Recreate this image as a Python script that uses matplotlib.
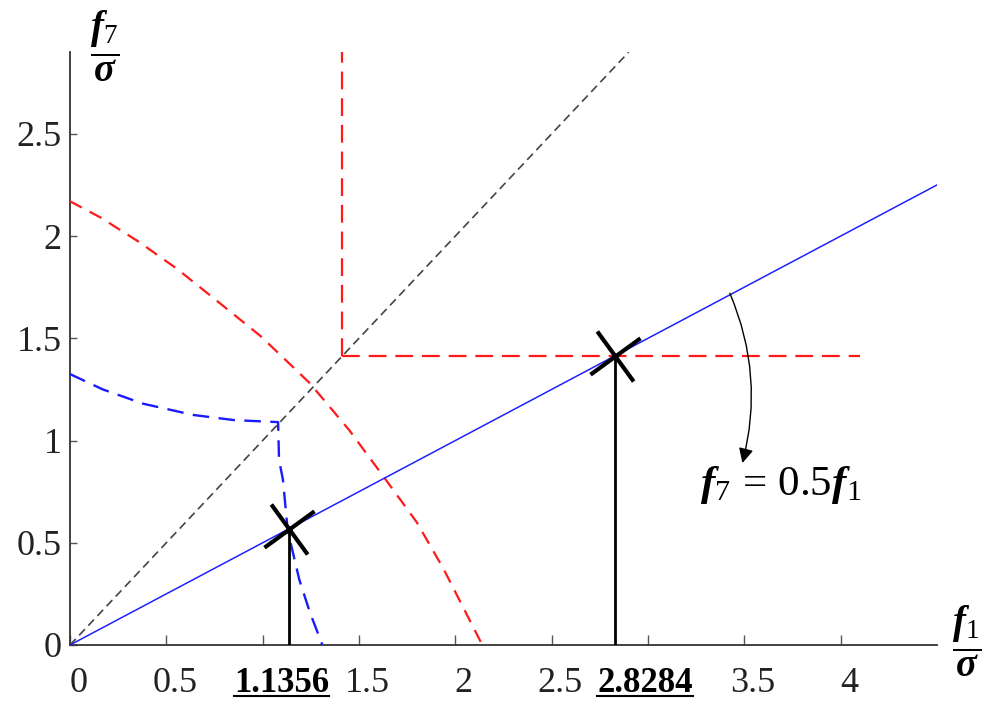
import matplotlib
matplotlib.use('Agg')
import matplotlib.pyplot as plt
import matplotlib.transforms as mtransforms
from matplotlib.path import Path
from matplotlib.lines import Line2D
import numpy as np

# ---------------- data ----------------
red_arc_x = [0.0, 0.16, 0.36, 0.555, 0.78, 0.99, 1.19, 1.245, 1.45, 1.63, 1.80, 1.94, 2.14]
red_arc_y = [2.17, 2.09, 1.97, 1.84, 1.67, 1.51, 1.33, 1.28, 1.05, 0.82, 0.60, 0.37, 0.0]

blue_dash_x = [0.0, 0.17, 0.38, 0.64, 0.85, 1.08, 1.085, 1.105, 1.13, 1.19, 1.245, 1.31]
blue_dash_y = [1.325, 1.25, 1.18, 1.125, 1.10, 1.09, 0.905, 0.81, 0.56, 0.32, 0.16, 0.0]

red_corner = 1.4142          # corner of the red dashed right angle
red_h_end = 4.1              # end of the horizontal red branch
red_v_end = 2.9              # end of the vertical red branch

diag_x = [0.0, 2.9]
diag_y = [0.0, 2.9]

ratio = 0.5                  # f7 = 0.5 f1
line_x = [0.0, 4.5]
line_y = [ratio * v for v in line_x]

marker_x = [1.1356, 2.8284]
marker_y = [ratio * v for v in marker_x]

xtick_pos = [0, 0.5, 1, 1.5, 2, 2.5, 3, 3.5, 4]
xtick_lab = ['0', '0.5', '', '1.5', '2', '2.5', '2.8284', '3.5', '4']
bold_major = '2.8284'
minor_pos = [1.1356]
minor_lab = ['1.1356']
ytick_pos = [0, 0.5, 1, 1.5, 2, 2.5]
ytick_lab = ['0', '0.5', '1', '1.5', '2', '2.5']

# ---------------- style ----------------
plt.rcParams['mathtext.fontset'] = 'custom'
plt.rcParams['mathtext.rm'] = 'Liberation Serif'
plt.rcParams['mathtext.it'] = 'Liberation Serif:italic'
plt.rcParams['mathtext.bf'] = 'Liberation Serif:bold:italic'
plt.rcParams['font.family'] = ['Liberation Serif', 'DejaVu Serif']

fig = plt.figure(figsize=(10, 7.07), dpi=100)
ax = fig.add_axes([0.07, 0.0877, 0.867, 0.8387])
ax.set_xlim(0, 4.5)
ax.set_ylim(0, 2.9)

# black dashed diagonal
ax.plot(diag_x, diag_y, color='#444444', lw=1.2, dashes=(5, 3), zorder=2)
# red arc
ax.plot(red_arc_x, red_arc_y, color='#ff1a1a', lw=1.6, dashes=(6, 4), zorder=3)
# red right angle
ax.plot([red_corner, red_corner], [red_corner, red_v_end], color='#ff1a1a', lw=1.6, dashes=(8, 4), zorder=3)
ax.plot([red_corner, red_h_end], [red_corner, red_corner], color='#ff1a1a', lw=1.6, dashes=(8, 4), zorder=3)
# blue dashed curve
ax.plot(blue_dash_x, blue_dash_y, color='#1a1aff', lw=1.7, dashes=(7, 4), zorder=3)
# blue solid line
ax.plot(line_x, line_y, color='#2020ff', lw=1.1, zorder=4)

# vertical black lines
for mx, my in zip(marker_x, marker_y):
    ax.plot([mx, mx], [0, my], color='black', lw=2.0, zorder=5)

# X markers
a1 = np.deg2rad(36)
a2 = np.deg2rad(-54)
verts = [(-0.5 * np.cos(a1), -0.5 * np.sin(a1)), (0.5 * np.cos(a1), 0.5 * np.sin(a1)),
         (-0.5 * np.cos(a2), -0.5 * np.sin(a2)), (0.5 * np.cos(a2), 0.5 * np.sin(a2))]
codes = [Path.MOVETO, Path.LINETO, Path.MOVETO, Path.LINETO]
xpath = Path(verts, codes)
ax.plot(marker_x, marker_y, linestyle='none', marker=xpath, markersize=36,
        mew=3.0, mec='black', mfc='none', zorder=6)

# annotation
ax.annotate('', xy=(3.49, 0.89), xytext=(3.425, 1.72),
            arrowprops=dict(arrowstyle='-|>', color='black', lw=1.0,
                            mutation_scale=22,
                            connectionstyle='arc3,rad=-0.17', shrinkA=0, shrinkB=0),
            zorder=6)
ax.text(3.27, 0.735, r'$\mathbf{f}_{7}\,=\,0.5\mathbf{f}_{1}$', fontsize=31,
        ha='left', va='baseline', color='black')

# axes styling
for s in ['top', 'right']:
    ax.spines[s].set_visible(False)
for s in ['left', 'bottom']:
    ax.spines[s].set_color('#333333')
    ax.spines[s].set_linewidth(1.3)

ax.set_xticks(xtick_pos)
ax.set_xticklabels(xtick_lab)
ax.set_yticks(ytick_pos)
ax.set_yticklabels(ytick_lab)
ax.tick_params(axis='x', direction='in', length=7, width=1, color='#555555',
               labelsize=26, labelcolor='#222222', pad=16)
ax.tick_params(axis='y', direction='in', length=5, width=1, color='#555555',
               labelsize=26, labelcolor='#222222', pad=6)

ax.set_xticks(minor_pos, minor=True)
ax.set_xticklabels(minor_lab, minor=True, fontweight='bold')
ax.tick_params(axis='x', which='minor', length=0, labelsize=25, labelcolor='black', pad=16)

shift_right = mtransforms.ScaledTranslation(6 / 72, 0, fig.dpi_scale_trans)
shift_left = mtransforms.ScaledTranslation(-5 / 72, 0, fig.dpi_scale_trans)
for lab in ax.get_xticklabels():
    if lab.get_text() == bold_major:
        lab.set_fontweight('bold')
        lab.set_color('black')
        lab.set_fontsize(25)
        lab.set_transform(lab.get_transform() + mtransforms.ScaledTranslation(-2 / 72, 0, fig.dpi_scale_trans))
    else:
        lab.set_transform(lab.get_transform() + shift_right)
for lab in ax.get_xticklabels(minor=True):
    lab.set_transform(lab.get_transform() + shift_left)

# axis labels as fractions
fig.text(0.105, 0.935, r'$\dfrac{\mathbf{f}_{7}}{\mathbf{\sigma}}$', fontsize=28,
         ha='center', va='center')
fig.text(0.967, 0.093, r'$\dfrac{\mathbf{f}_{1}}{\mathbf{\sigma}}$', fontsize=28,
         ha='center', va='center')

# underline bold labels
fig.canvas.draw()
inv = fig.transFigure.inverted()
bold_labels = list(ax.get_xticklabels(minor=True)) + \
    [l for l in ax.get_xticklabels() if l.get_text() == bold_major]
for lab in bold_labels:
    bb = lab.get_window_extent()
    (x0, y0), (x1, _) = inv.transform([(bb.x0, bb.y0 + 4), (bb.x1, bb.y0 + 4)])
    fig.add_artist(Line2D([x0, x1], [y0, y0], transform=fig.transFigure,
                          color='black', lw=1.5))

fig.savefig('out.png', dpi=100)
